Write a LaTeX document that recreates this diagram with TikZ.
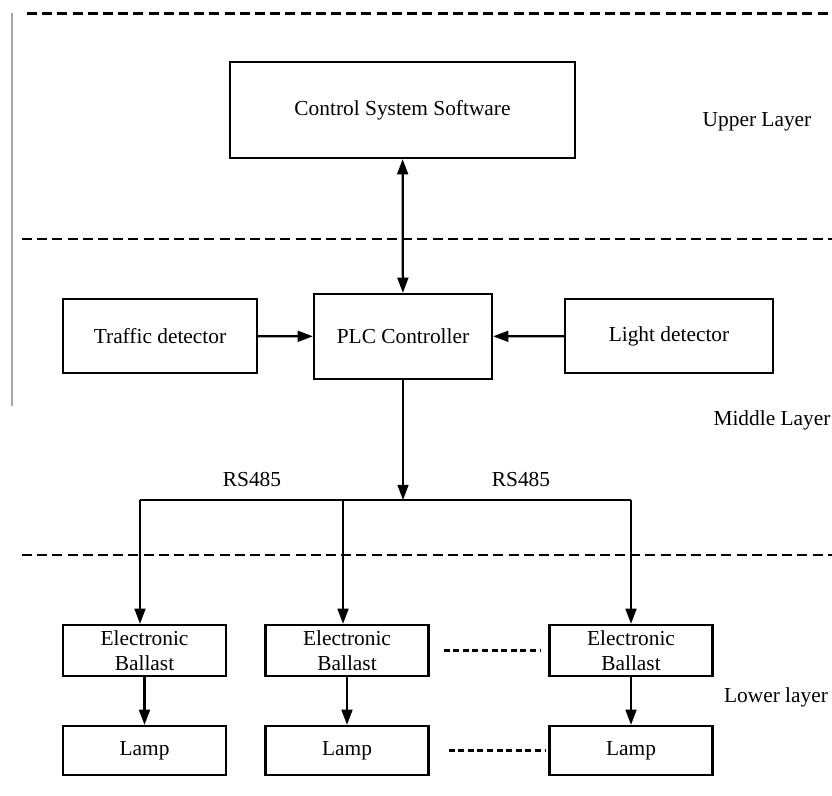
\documentclass[tikz,border=0pt]{standalone}
\usepackage{fontspec}
\setmainfont{Liberation Serif}
\usetikzlibrary{arrows.meta}
\def\u{0.025cm}
\tikzset{
  >={Triangle[length=0.38cm,width=0.27cm]},
  blk/.style={draw,line width=1.6pt,align=center,inner sep=0pt},
  layerline/.style={line width=1.7pt,dash pattern=on 0.25cm off 0.13cm},
  etc/.style={line width=2.6pt,dash pattern=on 0.15cm off 0.09cm},
  wire/.style={line width=1.6pt},
}
\begin{document}
\begin{tikzpicture}[x=0.025cm,y=-0.025cm,font=\fontsize{15.2}{17.7}\selectfont]
    \useasboundingbox (0,0) rectangle (832,795);
    % layer borders
    \draw[layerline] (27,13.5) -- (832,13.5);
    \draw[layerline] (22,239) -- (832,239);
    \draw[layerline] (22,555) -- (832,555);
    \draw[gray!70,line width=0.8pt] (12,13) -- (12,406);
    % upper layer
    \node[blk,minimum width=345*\u,minimum height=96*\u] (A0_0) at (402.5,110) {Control System Software};
    % middle layer
    \node[blk,minimum width=194*\u,minimum height=74*\u] (A1_0) at (160,336) {Traffic detector};
    \node[blk,minimum width=178*\u,minimum height=85*\u] (A1_1) at (403,336.5) {PLC Controller};
    \node[blk,minimum width=208*\u,minimum height=74*\u] (A1_2) at (669,336) {Light detector};
    % lower layer
    \foreach \i/\cx in {0/144.5,1/347,2/631} {
      \node[blk,minimum width=163*\u,minimum height=51*\u] (A2_\i) at (\cx,650.5) {Electronic\\Ballast};
      \node[blk,minimum width=163*\u,minimum height=49*\u] (A3_\i) at (\cx,750.5) {Lamp};
    }
    % bus
    \coordinate (B0) at (140,500);
    \coordinate (B1) at (343,500);
    \coordinate (B2) at (631,500);
    \coordinate (B3) at (403,500);
    \draw[wire] (B0) -- (B2);
    \path (A0_0) edge [wire,<->] (A1_1);
    \path (A1_0) edge [wire,->] (A1_1);
    \path (A1_2) edge [wire,->] (A1_1);
    \path (A1_1) edge [wire,->] (B3);
    \path (B0) edge [wire,->] (B0 |- A2_0.north);
    \path (B1) edge [wire,->] (B1 |- A2_1.north);
    \path (B2) edge [wire,->] (A2_2);
    \path (A2_0) edge [wire,->] (A3_0);
    \path (A2_1) edge [wire,->] (A3_1);
    \path (A2_2) edge [wire,->] (A3_2);
    \draw[etc,shorten <=14*\u,shorten >=8*\u] (A2_1.east) -- (A2_2.west);
    \draw[etc,shorten <=19*\u,shorten >=3*\u] (A3_1.east) -- (A3_2.west);
    % labels
    \node (L0) at (252,479) {RS485};
    \node (L1) at (521,479) {RS485};
    \node (U0) at (757,122) {Upper Layer};
    \node (U1) at (772,420) {Middle Layer};
    \node (U2) at (776,697) {Lower layer};
  \end{tikzpicture}
\end{document}
